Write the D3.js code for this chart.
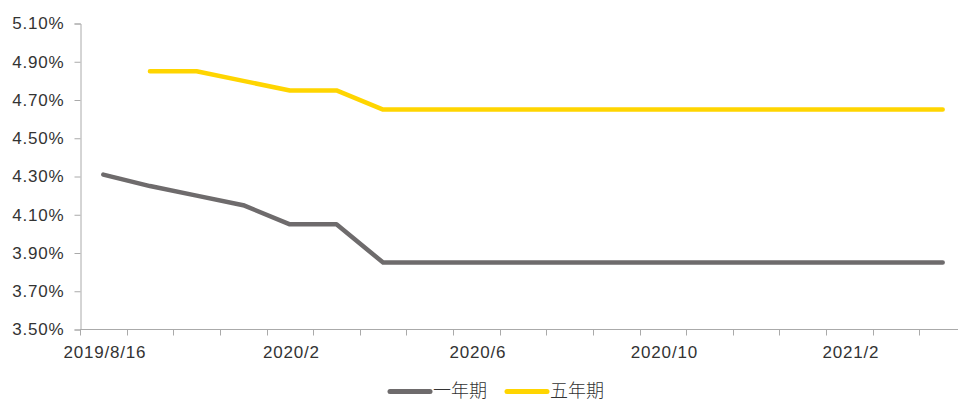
<!DOCTYPE html>
<html>
<head>
<meta charset="utf-8">
<script src="https://cdn.jsdelivr.net/npm/d3@7"></script>
<style>
  body { margin: 0; background: #fff; }
  text { font-family: "Liberation Sans", Arial, sans-serif; fill: #333; }
  .cjk { font-family: "Noto Sans CJK SC", sans-serif; font-weight: 300; }
</style>
</head>
<body>
<div id="chart"></div>
<script>
const dates = ['2019/8/16', '2019/8/20', '2019/9/20', '2019/11/20', '2020/2', '2020/3', '2020/4',
  '2020/5', '2020/6', '2020/7', '2020/8', '2020/9', '2020/10', '2020/11', '2020/12',
  '2021/1', '2021/2', '2021/3', '2021/4'];
const oneYear = [4.31, 4.25, 4.20, 4.15, 4.05, 4.05, 3.85, 3.85, 3.85, 3.85, 3.85, 3.85, 3.85,
  3.85, 3.85, 3.85, 3.85, 3.85, 3.85];
const fiveYear = [null, 4.85, 4.85, 4.80, 4.75, 4.75, 4.65, 4.65, 4.65, 4.65, 4.65, 4.65, 4.65,
  4.65, 4.65, 4.65, 4.65, 4.65, 4.65];
const yTicks = [3.5, 3.7, 3.9, 4.1, 4.3, 4.5, 4.7, 4.9, 5.1];
const seriesNames = ['一年期', '五年期'];
const seriesColors = ['#6e6b6c', '#ffd500'];

const width = 958;
const height = 400;

const svg = d3.select('#chart')
              .append('svg')
              .attr('width', width)
              .attr('height', height);

const x = d3.scaleBand()
            .domain(dates)
            .range([80, 966]);

const y = d3.scaleLinear()
            .domain([3.5, 5.1])
            .range([329.5, 23.5]);

// y axis
const yAxis = svg.append('g')
                 .attr('transform', 'translate(80.5,0)')
                 .call(d3.axisLeft(y).tickValues(yTicks).tickSize(6).tickPadding(10)
                          .tickFormat((d) => d.toFixed(2) + '%'));
yAxis.selectAll('path, line').attr('stroke', '#aaa');
yAxis.selectAll('text')
     .style('font-size', '17px')
     .style('letter-spacing', '0.8px')
     .attr('fill', '#333');

// x axis, ticks between categories
const xAxis = svg.append('g').attr('transform', 'translate(0,329.5)');
xAxis.append('line')
     .attr('x1', 80).attr('x2', 966)
     .attr('stroke', '#aaa');
xAxis.selectAll('.tick')
     .data(dates)
     .enter()
     .append('line')
     .attr('x1', (d) => Math.round(x(d)) + 0.5)
     .attr('x2', (d) => Math.round(x(d)) + 0.5)
     .attr('y1', 0)
     .attr('y2', 6)
     .attr('stroke', '#aaa');
xAxis.selectAll('.lbl')
     .data(dates.filter((d, i) => i % 4 === 0))
     .enter()
     .append('text')
     .attr('x', (d) => x(d) + x.bandwidth() / 2 + 1.5)
     .attr('y', 28)
     .attr('text-anchor', 'middle')
     .style('font-size', '17px')
     .style('letter-spacing', '0.8px')
     .text((d) => d);

const line = d3.line()
               .defined((d) => d != null)
               .x((d, i) => x(dates[i]) + x.bandwidth() / 2)
               .y((d) => y(d));

[oneYear, fiveYear].forEach((vals, k) => {
  svg.append('path')
     .datum(vals)
     .attr('fill', 'none')
     .attr('stroke', seriesColors[k])
     .attr('stroke-width', 4.5)
     .attr('stroke-linecap', 'round')
     .attr('stroke-linejoin', 'round')
     .attr('d', line);
});

// legend
const legendX = [390, 507];
seriesNames.forEach((name, k) => {
  const g = svg.append('g').attr('transform', 'translate(' + legendX[k] + ',391.5)');
  g.append('line')
   .attr('x1', 0).attr('x2', 40)
   .attr('stroke', seriesColors[k])
   .attr('stroke-width', 5)
   .attr('stroke-linecap', 'round');
  g.append('text')
   .attr('class', 'cjk')
   .attr('x', 43)
   .attr('y', 5)
   .style('font-size', '18px')
   .text(name);
});
</script>
</body>
</html>
